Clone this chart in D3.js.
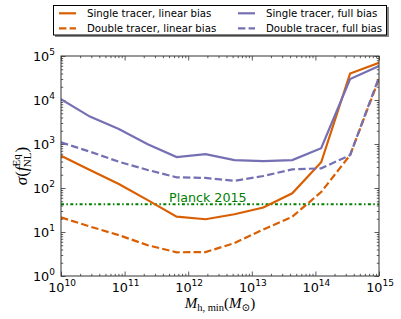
<!DOCTYPE html>
<html><head><meta charset="utf-8">
<script src="https://cdn.jsdelivr.net/npm/d3@7"></script>
<style>body{margin:0;background:#fff}svg{display:block}</style>
</head><body>
<svg id="c" width="401" height="319"></svg>
<script>
// ---- data ----
const logMass = [10, 10.4545, 10.9091, 11.3636, 11.8182, 12.2727, 12.7273, 13.1818, 13.6364, 14.0909, 14.5455, 15];
const singleLinear = [540, 257, 123, 53, 22.3, 19.5, 25.3, 36, 76, 385, 40000, 70000];
const doubleLinear = [21.5, 13.3, 8.5, 5.0, 3.46, 3.5, 5.6, 11.4, 22.3, 81, 560, 30000];
const singleFull = [10400, 4200, 2200, 990, 505, 590, 430, 410, 430, 800, 30000, 59000];
const doubleFull = [1090, 670, 395, 257, 175, 169, 146, 187, 265, 280, 560, 33000];
const planck = 43;
const xMajor = [10, 11, 12, 13, 14, 15];
const yMajor = [0, 1, 2, 3, 4, 5];
const legendLabels = ["Single tracer, linear bias", "Double tracer, linear bias", "Single tracer, full bias", "Double tracer, full bias"];

const series = [
  {vals: singleLinear, color: "#d95f02", dash: null},
  {vals: doubleLinear, color: "#d95f02", dash: "7.4,3.2"},
  {vals: singleFull, color: "#7570b3", dash: null},
  {vals: doubleFull, color: "#7570b3", dash: "7.4,3.2"}
];

const svg = d3.select("#c");
const L = 61, R = 379, T = 56, B = 276;
const x = d3.scaleLog().domain([1e10, 1e15]).range([L, R]);
const y = d3.scaleLog().domain([1, 1e5]).range([B, T]);

svg.append("clipPath").attr("id", "clip").append("rect")
  .attr("x", L).attr("y", T).attr("width", R - L).attr("height", B - T);

const xMinor = [], yMinor = [];
for (let e = 10; e < 15; e++) for (let k = 2; k <= 9; k++) xMinor.push(k * Math.pow(10, e));
for (let e = 0; e < 5; e++) for (let k = 2; k <= 9; k++) yMinor.push(k * Math.pow(10, e));
const xMaj = xMajor.map(e => Math.pow(10, e));
const yMaj = yMajor.map(e => Math.pow(10, e));

function ax(gen, tr, vals, size) {
  const g = svg.append("g").attr("transform", tr)
    .call(gen.tickValues(vals).tickSizeInner(size).tickSizeOuter(0).tickFormat(""));
  g.select(".domain").remove();
  g.selectAll("line").attr("stroke", "#333").attr("stroke-width", 0.8);
}
ax(d3.axisBottom(x), `translate(0,${B})`, xMaj, -4.5);
ax(d3.axisBottom(x), `translate(0,${B})`, xMinor, -2.2);
ax(d3.axisTop(x), `translate(0,${T})`, xMaj, -4.5);
ax(d3.axisTop(x), `translate(0,${T})`, xMinor, -2.2);
ax(d3.axisLeft(y), `translate(${L},0)`, yMaj, -4.5);
ax(d3.axisLeft(y), `translate(${L},0)`, yMinor, -2.2);
ax(d3.axisRight(y), `translate(${R},0)`, yMaj, -4.5);
ax(d3.axisRight(y), `translate(${R},0)`, yMinor, -2.2);

const plot = svg.append("g").attr("clip-path", "url(#clip)");
plot.append("line").attr("x1", L).attr("x2", R).attr("y1", y(planck)).attr("y2", y(planck))
  .attr("stroke", "#008000").attr("stroke-width", 2).attr("stroke-dasharray", "3,2.4,1.5,2.4");
const line = d3.line().x((d, i) => x(Math.pow(10, logMass[i]))).y(d => y(d));
series.forEach(s => {
  plot.append("path").attr("d", line(s.vals)).attr("fill", "none")
    .attr("stroke", s.color).attr("stroke-width", 2.2)
    .attr("stroke-dasharray", s.dash).attr("stroke-linejoin", "miter");
});
svg.append("text").attr("x", 169).attr("y", 201.5).attr("font-family", "DejaVu Sans")
  .attr("font-size", 12.7).attr("fill", "#008000").text("Planck 2015");

svg.append("rect").attr("x", L).attr("y", T).attr("width", R - L).attr("height", B - T)
  .attr("fill", "none").attr("stroke", "#333").attr("stroke-width", 1);

xMajor.forEach(e => {
  const t = svg.append("text").attr("x", x(Math.pow(10, e)) + 1).attr("y", 291.5)
    .attr("text-anchor", "middle").attr("font-family", "DejaVu Sans").attr("font-size", 12.8).attr("fill", "#000");
  t.append("tspan").text("10");
  t.append("tspan").attr("dy", -5.5).attr("font-size", 9).text(e);
});
yMajor.forEach(e => {
  const ty = y(Math.pow(10, e));
  const t = svg.append("text").attr("x", 55).attr("y", ty + 4.5)
    .attr("text-anchor", "end").attr("font-family", "DejaVu Sans").attr("font-size", 12.8).attr("fill", "#000");
  t.append("tspan").text("10");
  t.append("tspan").attr("dy", -5.5).attr("font-size", 9).text(e);
});

const xl = svg.append("text").attr("x", 220).attr("y", 308).attr("text-anchor", "middle")
  .attr("font-family", "Liberation Serif, DejaVu Serif").attr("font-size", 15).attr("fill", "#000");
xl.append("tspan").attr("font-style", "italic").text("M");
xl.append("tspan").attr("dy", 3).attr("font-size", 10.5).text("h, min");
xl.append("tspan").attr("dy", -3).text("(");
xl.append("tspan").attr("font-style", "italic").text("M");
xl.append("tspan").attr("dy", 3).attr("font-size", 10.5).text("⊙");
xl.append("tspan").attr("dy", -3).text(")");

const yl = svg.append("text").attr("transform", "translate(27,166) rotate(-90)").attr("text-anchor", "middle")
  .attr("font-family", "Liberation Serif, DejaVu Serif").attr("font-size", 17).attr("fill", "#000");
yl.append("tspan").attr("font-style", "italic").text("σ");
yl.append("tspan").text("(");
yl.append("tspan").attr("font-style", "italic").text("f");
yl.append("tspan").attr("dy", -7).attr("font-size", 11).text("Eq");
yl.append("tspan").attr("dx", -13).attr("dy", 11).attr("font-size", 11).text("NL");
yl.append("tspan").attr("dy", -4).text(")");

const lg = svg.append("g");
lg.append("rect").attr("x", 55).attr("y", 7).attr("width", 334).attr("height", 30).attr("fill", "#888");
lg.append("rect").attr("x", 53.5).attr("y", 5.5).attr("width", 333).attr("height", 29.5)
  .attr("fill", "#fff").attr("stroke", "#000").attr("stroke-width", 1);
const pos = [[59, 13.3], [59, 28.3], [238, 13.3], [238, 28.3]];
series.forEach((s, i) => {
  const [px, py] = pos[i];
  lg.append("line").attr("x1", px).attr("x2", px + 17).attr("y1", py).attr("y2", py)
    .attr("stroke", s.color).attr("stroke-width", 2.2).attr("stroke-dasharray", s.dash);
  lg.append("text").attr("x", px + 28).attr("y", py + 3.6).attr("font-family", "DejaVu Sans")
    .attr("font-size", 10.2).attr("fill", "#000").text(legendLabels[i]);
});
</script>
</body></html>
